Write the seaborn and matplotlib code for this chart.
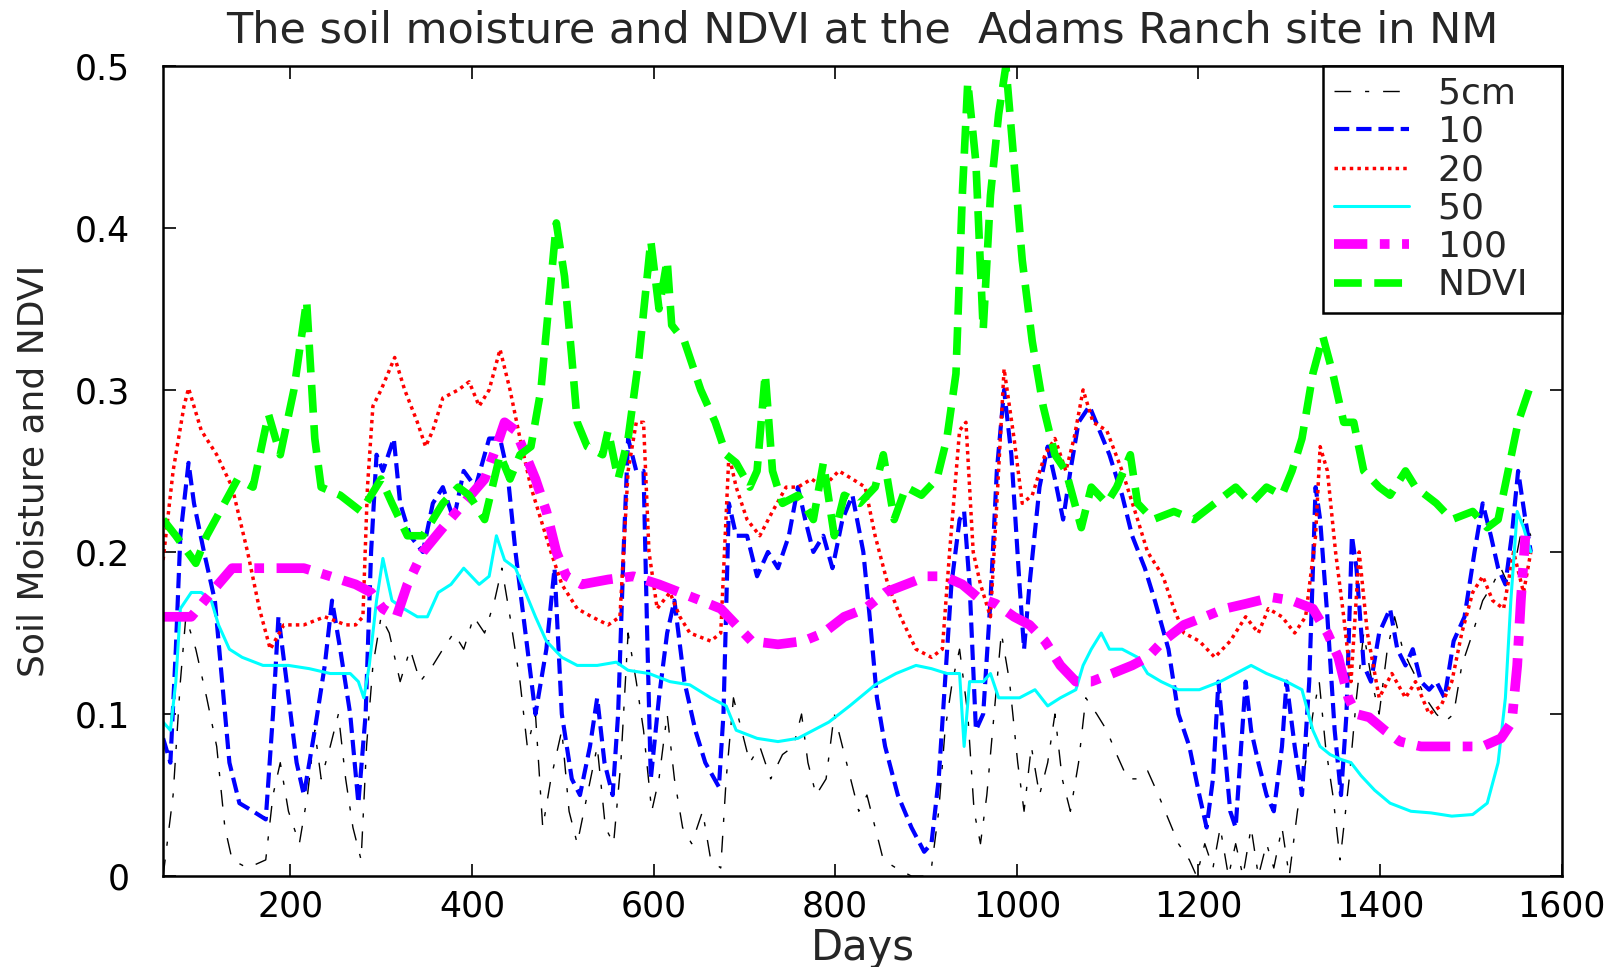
import matplotlib
matplotlib.use("Agg")
import matplotlib.pyplot as plt
import seaborn as sns
import pandas as pd

# ---------------- data ----------------
ndvi_days = [60, 74, 96, 108, 142, 159, 176, 189, 204, 218, 227, 234, 255, 278, 300, 312, 329, 346,
             368, 385, 397, 414, 431, 442, 453, 465, 476, 493, 502, 510, 516, 527, 544, 550, 561, 572,
             584, 597, 606, 615, 620, 634, 652, 668, 680, 691, 706, 714, 723, 731, 742, 759, 776, 787,
             799, 810, 827, 844, 853, 865, 878, 895, 912, 923, 933, 940, 946, 955, 963, 971, 980, 988,
             997, 1006, 1017, 1029, 1042, 1054, 1071, 1082, 1099, 1110, 1125, 1133, 1150, 1173, 1195,
             1218, 1241, 1258, 1275, 1292, 1303, 1314, 1326, 1337, 1348, 1360, 1371, 1382, 1399, 1411,
             1428, 1439, 1462, 1479, 1502, 1518, 1530, 1541, 1552, 1564]
ndvi_vals = [0.22, 0.21, 0.193, 0.21, 0.245, 0.24, 0.285, 0.26, 0.30, 0.355, 0.27, 0.24, 0.235, 0.225,
             0.245, 0.23, 0.21, 0.21, 0.23, 0.24, 0.235, 0.22, 0.26, 0.245, 0.26, 0.265, 0.30, 0.403,
             0.37, 0.32, 0.28, 0.265, 0.26, 0.275, 0.245, 0.27, 0.32, 0.392, 0.35, 0.38, 0.34, 0.33,
             0.30, 0.28, 0.26, 0.255, 0.24, 0.25, 0.31, 0.25, 0.23, 0.235, 0.22, 0.255, 0.21, 0.235,
             0.23, 0.24, 0.26, 0.22, 0.24, 0.235, 0.245, 0.27, 0.31, 0.42, 0.49, 0.44, 0.337, 0.42,
             0.47, 0.50, 0.44, 0.38, 0.33, 0.29, 0.26, 0.25, 0.215, 0.24, 0.23, 0.24, 0.26, 0.23, 0.22,
             0.225, 0.22, 0.23, 0.24, 0.23, 0.24, 0.235, 0.25, 0.27, 0.31, 0.333, 0.31, 0.28, 0.28,
             0.25, 0.24, 0.235, 0.25, 0.24, 0.23, 0.22, 0.225, 0.215, 0.22, 0.25, 0.28, 0.30]

d20_days = [60, 71, 83, 88, 102, 119, 136, 153, 166, 178, 193, 215, 238, 261, 272, 280, 285, 291, 300,
            315, 326, 340, 349, 357, 368, 385, 397, 408, 419, 431, 442, 453, 465, 476, 487, 499, 516,
            532, 550, 563, 572, 581, 589, 595, 604, 618, 629, 640, 663, 674, 683, 691, 703, 717, 731,
            746, 759, 774, 787, 804, 819, 833, 844, 858, 872, 889, 906, 918, 926, 937, 944, 952, 960,
            971, 978, 986, 997, 1006, 1017, 1031, 1042, 1054, 1063, 1073, 1084, 1099, 1116, 1133, 1144,
            1161, 1173, 1184, 1201, 1218, 1235, 1252, 1266, 1277, 1292, 1306, 1318, 1329, 1334, 1342,
            1351, 1360, 1368, 1377, 1386, 1399, 1413, 1428, 1439, 1454, 1467, 1479, 1490, 1502, 1513,
            1524, 1536, 1547, 1558, 1566]
d20_vals = [0.195, 0.25, 0.29, 0.301, 0.275, 0.26, 0.24, 0.20, 0.165, 0.14, 0.155, 0.155, 0.16, 0.155,
            0.155, 0.16, 0.24, 0.29, 0.30, 0.32, 0.30, 0.28, 0.265, 0.275, 0.295, 0.30, 0.305, 0.29,
            0.30, 0.325, 0.30, 0.27, 0.24, 0.22, 0.20, 0.18, 0.165, 0.16, 0.155, 0.16, 0.25, 0.28,
            0.28, 0.20, 0.165, 0.175, 0.16, 0.15, 0.145, 0.15, 0.26, 0.24, 0.22, 0.21, 0.225, 0.24,
            0.24, 0.245, 0.24, 0.25, 0.245, 0.24, 0.21, 0.18, 0.16, 0.14, 0.135, 0.14, 0.20, 0.275,
            0.28, 0.20, 0.18, 0.16, 0.23, 0.313, 0.27, 0.23, 0.235, 0.26, 0.27, 0.25, 0.27, 0.30, 0.28,
            0.275, 0.25, 0.22, 0.20, 0.185, 0.165, 0.15, 0.145, 0.135, 0.145, 0.16, 0.15, 0.165, 0.16,
            0.15, 0.16, 0.21, 0.265, 0.25, 0.20, 0.16, 0.12, 0.20, 0.15, 0.11, 0.125, 0.11, 0.12, 0.10,
            0.105, 0.12, 0.15, 0.175, 0.185, 0.17, 0.165, 0.20, 0.175, 0.20]

d10_days = [60, 68, 74, 79, 88, 94, 105, 117, 125, 133, 144, 159, 173, 181, 187, 196, 207, 215, 227,
            238, 246, 255, 266, 275, 283, 289, 295, 302, 314, 321, 332, 346, 357, 368, 380, 391, 404,
            419, 431, 439, 448, 459, 470, 482, 491, 499, 510, 519, 530, 538, 546, 555, 561, 567, 572,
            581, 589, 593, 597, 606, 615, 623, 634, 646, 657, 672, 677, 683, 691, 703, 714, 726, 737,
            749, 759, 767, 776, 787, 797, 808, 819, 831, 838, 846, 855, 869, 884, 898, 906, 914, 921,
            928, 937, 942, 948, 955, 963, 971, 978, 986, 994, 1003, 1008, 1014, 1025, 1034, 1042, 1051,
            1059, 1068, 1080, 1091, 1102, 1116, 1127, 1141, 1152, 1167, 1178, 1190, 1201, 1209, 1216,
            1222, 1227, 1235, 1241, 1247, 1252, 1258, 1266, 1275, 1283, 1292, 1297, 1306, 1314, 1322,
            1329, 1334, 1342, 1350, 1357, 1363, 1369, 1374, 1382, 1390, 1399, 1411, 1419, 1428, 1436,
            1445, 1454, 1462, 1471, 1481, 1493, 1504, 1513, 1522, 1530, 1538, 1545, 1552, 1560, 1566]
d10_vals = [0.085, 0.07, 0.14, 0.21, 0.255, 0.23, 0.20, 0.17, 0.12, 0.07, 0.045, 0.04, 0.035, 0.10,
            0.16, 0.12, 0.07, 0.05, 0.09, 0.13, 0.17, 0.14, 0.10, 0.045, 0.10, 0.20, 0.26, 0.25, 0.27,
            0.23, 0.21, 0.20, 0.23, 0.24, 0.22, 0.25, 0.24, 0.27, 0.27, 0.25, 0.20, 0.15, 0.10, 0.14,
            0.19, 0.10, 0.06, 0.05, 0.08, 0.11, 0.07, 0.05, 0.10, 0.20, 0.27, 0.25, 0.25, 0.15, 0.06,
            0.11, 0.15, 0.17, 0.12, 0.09, 0.07, 0.055, 0.10, 0.23, 0.21, 0.21, 0.185, 0.20, 0.19, 0.21,
            0.24, 0.22, 0.20, 0.21, 0.19, 0.22, 0.235, 0.20, 0.16, 0.11, 0.08, 0.05, 0.03, 0.015, 0.02,
            0.06, 0.12, 0.18, 0.22, 0.225, 0.18, 0.09, 0.10, 0.17, 0.25, 0.30, 0.26, 0.18, 0.14, 0.18,
            0.24, 0.265, 0.245, 0.22, 0.25, 0.28, 0.29, 0.275, 0.26, 0.235, 0.21, 0.19, 0.17, 0.14,
            0.10, 0.08, 0.05, 0.03, 0.06, 0.12, 0.09, 0.04, 0.03, 0.08, 0.12, 0.09, 0.07, 0.05, 0.04,
            0.08, 0.12, 0.08, 0.05, 0.12, 0.24, 0.22, 0.16, 0.09, 0.05, 0.10, 0.21, 0.19, 0.13, 0.12,
            0.15, 0.165, 0.14, 0.13, 0.14, 0.12, 0.115, 0.12, 0.11, 0.145, 0.16, 0.20, 0.23, 0.21,
            0.19, 0.18, 0.21, 0.25, 0.22, 0.20]

d50_days = [60, 68, 74, 79, 91, 102, 113, 121, 133, 147, 170, 198, 221, 244, 266, 275, 281, 287, 295,
            302, 312, 325, 340, 351, 363, 377, 391, 408, 419, 427, 436, 448, 459, 470, 482, 499, 516,
            538, 559, 572, 595, 618, 640, 663, 680, 691, 714, 737, 759, 776, 793, 816, 844, 867, 889,
            906, 923, 937, 942, 948, 963, 971, 980, 1003, 1020, 1034, 1048, 1065, 1073, 1082, 1093,
            1102, 1116, 1133, 1144, 1159, 1178, 1201, 1224, 1241, 1258, 1275, 1297, 1314, 1326, 1334,
            1345, 1357, 1368, 1379, 1394, 1411, 1434, 1456, 1479, 1502, 1518, 1530, 1538, 1544, 1551,
            1558, 1566]
d50_vals = [0.095, 0.09, 0.12, 0.165, 0.175, 0.175, 0.17, 0.155, 0.14, 0.135, 0.13, 0.13, 0.128,
            0.125, 0.125, 0.12, 0.11, 0.13, 0.17, 0.196, 0.17, 0.165, 0.16, 0.16, 0.175, 0.18, 0.19,
            0.18, 0.185, 0.21, 0.195, 0.19, 0.175, 0.16, 0.145, 0.135, 0.13, 0.13, 0.132, 0.127,
            0.125, 0.12, 0.118, 0.11, 0.105, 0.09, 0.085, 0.083, 0.085, 0.09, 0.095, 0.105, 0.118,
            0.125, 0.13, 0.128, 0.125, 0.125, 0.08, 0.12, 0.12, 0.125, 0.11, 0.11, 0.115, 0.105, 0.11,
            0.115, 0.13, 0.14, 0.15, 0.14, 0.14, 0.135, 0.125, 0.12, 0.115, 0.115, 0.12, 0.125, 0.13,
            0.125, 0.12, 0.115, 0.09, 0.08, 0.075, 0.072, 0.07, 0.062, 0.053, 0.045, 0.04, 0.039,
            0.037, 0.038, 0.045, 0.07, 0.11, 0.17, 0.225, 0.215, 0.20]

d100_days = [60, 91, 113, 136, 164, 193, 215, 244, 272, 289, 302, 317, 329, 346, 368, 391, 414, 427,
             436, 448, 459, 470, 482, 493, 504, 521, 550, 578, 606, 629, 652, 674, 691, 708, 737, 765,
             787, 810, 833, 855, 878, 901, 920, 940, 957, 977, 997, 1014, 1031, 1048, 1065, 1082, 1105,
             1127, 1144, 1161, 1184, 1207, 1229, 1252, 1281, 1303, 1326, 1342, 1354, 1365, 1374, 1388,
             1405, 1422, 1445, 1467, 1490, 1513, 1533, 1545, 1551, 1555, 1560]
d100_vals = [0.16, 0.16, 0.175, 0.19, 0.19, 0.19, 0.19, 0.185, 0.18, 0.175, 0.165, 0.16, 0.18, 0.20,
             0.215, 0.23, 0.245, 0.265, 0.28, 0.275, 0.26, 0.245, 0.225, 0.20, 0.185, 0.18, 0.183,
             0.185, 0.18, 0.175, 0.17, 0.165, 0.155, 0.145, 0.143, 0.145, 0.15, 0.16, 0.165, 0.175,
             0.18, 0.185, 0.185, 0.18, 0.172, 0.168, 0.16, 0.155, 0.145, 0.13, 0.12, 0.12, 0.125,
             0.13, 0.135, 0.145, 0.155, 0.16, 0.165, 0.168, 0.172, 0.17, 0.165, 0.15, 0.135, 0.11,
             0.10, 0.098, 0.09, 0.083, 0.08, 0.08, 0.08, 0.08, 0.085, 0.095, 0.13, 0.17, 0.21]

d5_days = [60, 71, 79, 85, 96, 108, 119, 128, 136, 153, 173, 181, 189, 198, 210, 219, 227, 234, 244,
           253, 261, 269, 278, 284, 291, 300, 309, 321, 332, 343, 357, 368, 380, 391, 402, 414, 425,
           433, 442, 453, 461, 470, 478, 487, 499, 507, 516, 527, 538, 547, 556, 564, 572, 581, 589,
           598, 606, 615, 623, 632, 642, 654, 663, 674, 680, 688, 697, 706, 717, 729, 742, 754, 763,
           770, 779, 790, 799, 808, 817, 826, 835, 844, 853, 867, 884, 898, 906, 914, 921, 929, 937,
           946, 953, 960, 967, 975, 983, 992, 1001, 1008, 1016, 1025, 1034, 1042, 1050, 1059, 1068,
           1076, 1088, 1099, 1110, 1122, 1133, 1144, 1156, 1167, 1178, 1190, 1198, 1207, 1216, 1224,
           1233, 1241, 1249, 1258, 1266, 1275, 1283, 1292, 1300, 1309, 1318, 1326, 1333, 1340, 1348,
           1356, 1366, 1374, 1382, 1391, 1399, 1408, 1416, 1425, 1433, 1442, 1450, 1462, 1471, 1481,
           1490, 1502, 1513, 1524, 1533, 1541, 1551, 1558, 1566]
d5_vals = [0.0, 0.05, 0.12, 0.16, 0.14, 0.11, 0.08, 0.03, 0.01, 0.005, 0.01, 0.05, 0.07, 0.04, 0.02,
           0.05, 0.09, 0.06, 0.08, 0.10, 0.06, 0.03, 0.01, 0.08, 0.13, 0.16, 0.15, 0.12, 0.14, 0.12,
           0.13, 0.14, 0.15, 0.14, 0.16, 0.15, 0.17, 0.19, 0.16, 0.12, 0.08, 0.10, 0.03, 0.06, 0.09,
           0.04, 0.02, 0.05, 0.08, 0.03, 0.02, 0.07, 0.15, 0.12, 0.09, 0.04, 0.06, 0.10, 0.06, 0.03,
           0.02, 0.04, 0.01, 0.005, 0.06, 0.11, 0.09, 0.07, 0.08, 0.06, 0.075, 0.08, 0.10, 0.07, 0.05,
           0.06, 0.10, 0.08, 0.06, 0.04, 0.05, 0.03, 0.01, 0.005, 0.0, 0.0, 0.005, 0.04, 0.09, 0.12,
           0.14, 0.10, 0.04, 0.02, 0.05, 0.10, 0.15, 0.12, 0.07, 0.04, 0.08, 0.05, 0.07, 0.10, 0.06,
           0.04, 0.07, 0.11, 0.10, 0.09, 0.075, 0.06, 0.06, 0.065, 0.05, 0.035, 0.02, 0.01, 0.0, 0.02,
           0.005, 0.03, 0.0, 0.02, 0.0, 0.03, 0.0, 0.02, 0.005, 0.03, 0.0, 0.04, 0.07, 0.10, 0.12,
           0.08, 0.05, 0.01, 0.06, 0.11, 0.15, 0.12, 0.10, 0.14, 0.16, 0.14, 0.13, 0.12, 0.11, 0.10,
           0.095, 0.10, 0.13, 0.15, 0.17, 0.18, 0.19, 0.18, 0.20, 0.22, 0.21]

series_labels = ["5cm", "10", "20", "50", "100", "NDVI"]
x_ticks = [200, 400, 600, 800, 1000, 1200, 1400, 1600]
y_ticks = [0, 0.1, 0.2, 0.3, 0.4, 0.5]
y_ticklabels = ["0", "0.1", "0.2", "0.3", "0.4", "0.5"]

# ---------------- styling ----------------
sns.set_style("ticks")
plt.rcParams["font.family"] = ["DejaVu Sans"]
plt.rcParams["lines.scale_dashes"] = False

fig = plt.figure(figsize=(16.15, 9.67), dpi=100)
ax = fig.add_axes([0.101, 0.094, 0.866, 0.838])

styles = [
    (d5_days, d5_vals, "black", 1.0, (0, (12, 10, 3, 10))),
    (d10_days, d10_vals, "#0000ff", 3.0, (0, (11, 5))),
    (d20_days, d20_vals, "#ff0000", 2.5, (0, (2.5, 3))),
    (d50_days, d50_vals, "#00ffff", 2.2, "-"),
    (d100_days, d100_vals, "#ff00ff", 7.0, (0, (24, 9, 7, 9))),
    (ndvi_days, ndvi_vals, "#00ff00", 5.5, (0, (20, 9))),
]

for (dx, dy, col, lw, ls), lab in zip(styles, series_labels):
    df = pd.DataFrame({"Days": dx, "val": dy})
    # trailing spaces only widen the legend box on the right, as in the reference
    sns.lineplot(data=df, x="Days", y="val", ax=ax, color=col, linewidth=lw,
                 linestyle=ls, label=lab + "  ", estimator=None, sort=False)

ax.set_xlim(60, 1600)
ax.set_ylim(0, 0.5)
ax.set_xticks(x_ticks)
ax.set_yticks(y_ticks)
ax.set_yticklabels(y_ticklabels)
ax.tick_params(direction="in", length=9, width=1.2, top=True, right=True,
               labelsize=25, colors="black")
ax.tick_params(axis="y", pad=24)
ax.tick_params(axis="x", pad=10)
for sp in ax.spines.values():
    sp.set_visible(True)
    sp.set_color("black")
    sp.set_linewidth(1.8)

ax.set_title("The soil moisture and NDVI at the  Adams Ranch site in NM",
             fontsize=31, pad=17)
ax.set_xlabel("Days", fontsize=30, labelpad=2)
ax.set_ylabel("Soil Moisture and NDVI", fontsize=26, labelpad=17)

leg = ax.legend(loc="upper right", bbox_to_anchor=(1.0, 1.0), borderaxespad=0,
                fontsize=26, frameon=True, fancybox=False, framealpha=1,
                edgecolor="black", handlelength=2.1, handletextpad=0.8,
                labelspacing=0.12, borderpad=0.3)
leg.get_frame().set_linewidth(1.8)

fig.savefig("out.png", dpi=100)
